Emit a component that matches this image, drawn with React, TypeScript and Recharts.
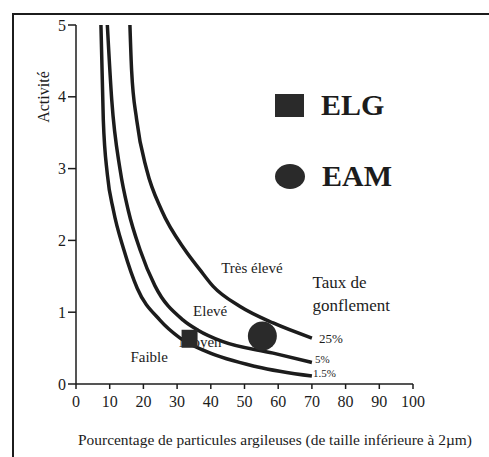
import React from "react";
import { ComposedChart, Line, Scatter, XAxis, YAxis, Legend } from "recharts";

// Activité vs pourcentage d'argile (< 2µm), abaque de gonflement
const xTicks = [0, 10, 20, 30, 40, 50, 60, 70, 80, 90, 100];
const yTicks = [0, 1, 2, 3, 4, 5];

// courbe 1,5 %
const x15 = [7.4, 8.1, 9.3, 11.1, 14.2, 18.2, 24.9, 30.9, 38.8, 53.6, 70];
const y15 = [5, 3.68, 2.92, 2.42, 1.87, 1.33, 0.89, 0.64, 0.45, 0.24, 0.11];
// courbe 5 %
const x5 = [9.3, 10.6, 13.1, 15.5, 19.0, 23.4, 31.8, 36.2, 43.6, 58.5, 70];
const y5 = [5, 3.96, 2.98, 2.42, 1.87, 1.37, 0.89, 0.75, 0.59, 0.43, 0.3];
// courbe 25 %
const x25 = [16.0, 16.5, 18.0, 21.0, 25.4, 32.3, 36.8, 40.7, 48.7, 58.5, 70];
const y25 = [5, 4.37, 3.68, 2.98, 2.42, 1.87, 1.59, 1.36, 1.08, 0.85, 0.64];

// échantillons
const elgX = [33.7];
const elgY = [0.63];
const eamX = [55.3];
const eamY = [0.67];

// zones de gonflement
const zoneNames = ["Très élevé", "Elevé", "Moyen", "Faible"];
const zoneX = [52.2, 39.8, 36.9, 21.7];
const zoneY = [1.62, 1.02, 0.59, 0.38];

// étiquettes des courbes
const bigCurveNames = ["25%"];
const bigCurveX = [72.1];
const bigCurveY = [0.64];
const smallCurveNames = ["5%", "1.5%"];
const smallCurveX = [70.9, 70.3];
const smallCurveY = [0.35, 0.15];

const titleLines = ["Taux de", "gonflement"];
const titleX = [70.2, 70.2];
const titleY = [1.41, 1.09];

const pts = (xs: number[], ys: number[]) => xs.map((x, i) => ({ x, y: ys[i] }));
const labelled = (names: string[], xs: number[], ys: number[]) =>
  names.map((name, i) => ({ name, x: xs[i], y: ys[i] }));

const ink = "#1c1c1c";
const serif = "'Liberation Serif', 'DejaVu Serif', serif";

const textShape = (size: number, anchor: "start" | "middle") => (props: any) => (
  <text
    x={props.cx}
    y={props.cy}
    fontSize={size}
    fontFamily={serif}
    fill={ink}
    textAnchor={anchor}
    dominantBaseline="central"
  >
    {props.payload.name}
  </text>
);

const squareShape = (props: any) => (
  <rect x={props.cx - 8} y={props.cy - 9} width={16} height={18} fill="#2a2a2a" />
);
const circleShape = (props: any) => (
  <circle cx={props.cx} cy={props.cy} r={14.5} fill="#2a2a2a" />
);

function LegendBox() {
  const row = { display: "flex", alignItems: "center", height: 34 } as const;
  const txt = {
    fontFamily: serif,
    fontWeight: 700,
    fontSize: 30,
    color: ink,
    marginLeft: 17,
    lineHeight: "30px",
  } as const;
  return (
    <div>
      <div style={row}>
        <div style={{ width: 29, height: 23, background: "#2a2a2a" }} />
        <span style={txt}>ELG</span>
      </div>
      <div style={{ height: 37 }} />
      <div style={row}>
        <div style={{ width: 30, height: 25, borderRadius: "50%", background: "#2a2a2a" }} />
        <span style={txt}>EAM</span>
      </div>
    </div>
  );
}

export default function App() {
  return (
    <div
      style={{
        position: "absolute",
        left: 0,
        top: 0,
        width: 489,
        height: 457,
        overflow: "hidden",
        background: "#fff",
      }}
    >
      <div
        style={{
          position: "absolute",
          left: 12,
          top: 13,
          width: 500,
          height: 460,
          borderLeft: `2px solid ${ink}`,
          borderTop: `2px solid ${ink}`,
        }}
      />
      <ComposedChart
        width={489}
        height={457}
        margin={{ top: 25, right: 76, bottom: 43, left: 46 }}
      >
        <XAxis
          dataKey="x"
          type="number"
          domain={[0, 100]}
          ticks={xTicks}
          interval={0}
          stroke={ink}
          strokeWidth={1.5}
          tickSize={5}
          tickMargin={7}
          height={30}
          tick={{ fill: ink, fontSize: 16, fontFamily: serif }}
          label={{
            content: () => (
              <text
                x={78}
                y={440}
                fontSize={14}
                fontFamily={serif}
                fill={ink}
                textLength={394}
                lengthAdjust="spacingAndGlyphs"
                dominantBaseline="central"
              >
                Pourcentage de particules argileuses (de taille inférieure à 2µm)
              </text>
            ),
          }}
        />
        <YAxis
          dataKey="y"
          type="number"
          domain={[0, 5]}
          ticks={yTicks}
          interval={0}
          width={30}
          stroke={ink}
          strokeWidth={1.5}
          tickSize={8}
          tickMargin={2}
          tick={{ fill: ink, fontSize: 16, fontFamily: serif }}
          label={{
            content: () => (
              <text
                x={43}
                y={97}
                fontSize={16}
                fontFamily={serif}
                fill={ink}
                textAnchor="middle"
                dominantBaseline="central"
                transform="rotate(-90 43 97)"
              >
                Activité
              </text>
            ),
          }}
        />
        <Legend
          layout="vertical"
          align="center"
          verticalAlign="middle"
          wrapperStyle={{ left: 275, top: 88, width: 150 }}
          content={() => <LegendBox />}
        />
        <Line data={pts(x15, y15)} dataKey="y" type="monotone" stroke={ink} strokeWidth={3.5} dot={false} isAnimationActive={false} />
        <Line data={pts(x5, y5)} dataKey="y" type="monotone" stroke={ink} strokeWidth={3.5} dot={false} isAnimationActive={false} />
        <Line data={pts(x25, y25)} dataKey="y" type="monotone" stroke={ink} strokeWidth={3.5} dot={false} isAnimationActive={false} />
        <Scatter data={labelled(zoneNames, zoneX, zoneY)} dataKey="y" shape={textShape(15, "middle")} isAnimationActive={false} />
        <Scatter data={labelled(bigCurveNames, bigCurveX, bigCurveY)} dataKey="y" shape={textShape(13, "start")} isAnimationActive={false} />
        <Scatter data={labelled(smallCurveNames, smallCurveX, smallCurveY)} dataKey="y" shape={textShape(11, "start")} isAnimationActive={false} />
        <Scatter data={labelled(titleLines, titleX, titleY)} dataKey="y" shape={textShape(17, "start")} isAnimationActive={false} />
        <Scatter name="ELG" data={pts(elgX, elgY)} dataKey="y" shape={squareShape} isAnimationActive={false} />
        <Scatter name="EAM" data={pts(eamX, eamY)} dataKey="y" shape={circleShape} isAnimationActive={false} />
      </ComposedChart>
    </div>
  );
}
